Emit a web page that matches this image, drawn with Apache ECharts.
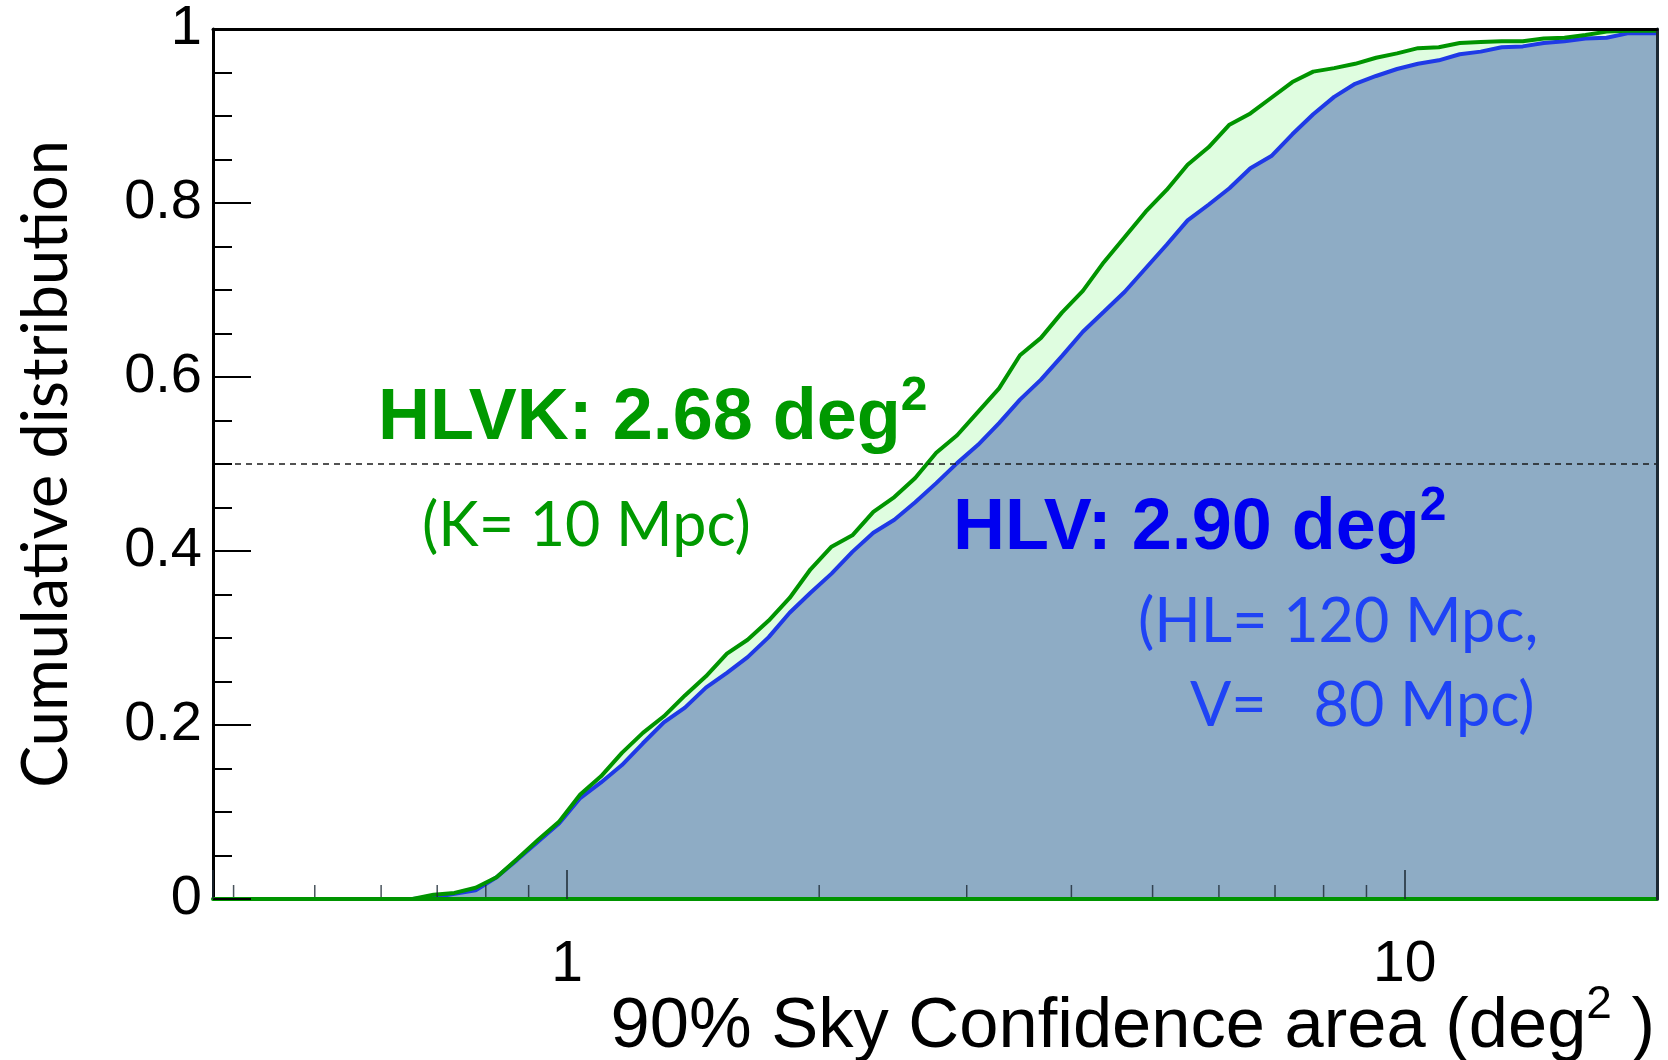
<!DOCTYPE html>
<html>
<head>
<meta charset="utf-8">
<title>90% sky confidence area</title>
<script src="https://cdn.jsdelivr.net/npm/echarts@6/dist/echarts.min.js"></script>
<style>
  html, body { margin: 0; padding: 0; background: #fff; }
  #chart { width: 1668px; height: 1060px; }
</style>
</head>
<body>
<div id="chart"></div>
<script>
// histogram bin centres (deg^2), last entry closes the curve at the axis end
const areas = [
  0.390, 0.413, 0.437, 0.463, 0.491, 0.520, 0.551, 0.583, 0.618, 0.654,
  0.693, 0.734, 0.778, 0.824, 0.872, 0.924, 0.979, 1.037, 1.098, 1.163,
  1.232, 1.305, 1.383, 1.465, 1.552, 1.643, 1.741, 1.844, 1.953, 2.069,
  2.191, 2.321, 2.459, 2.604, 2.759, 2.922, 3.095, 3.279, 3.473, 3.679,
  3.897, 4.128, 4.373, 4.632, 4.906, 5.197, 5.505, 5.831, 6.176, 6.542,
  6.930, 7.341, 7.775, 8.236, 8.724, 9.241, 9.789, 10.37, 10.98, 11.63,
  12.32, 13.05, 13.83, 14.65, 15.51, 16.43, 17.41, 18.44, 19.53, 20.0
];

// cumulative fraction, HLVK network
const hlvk = [
  0, 0, 0, 0, 0, 0, 0, 0, 0, 0,
  0.005, 0.007, 0.013, 0.025, 0.046, 0.068, 0.089, 0.120, 0.141, 0.168,
  0.191, 0.210, 0.234, 0.256, 0.282, 0.298, 0.320, 0.346, 0.379, 0.405,
  0.418, 0.445, 0.462, 0.484, 0.513, 0.533, 0.560, 0.587, 0.625, 0.645,
  0.674, 0.699, 0.732, 0.761, 0.790, 0.815, 0.844, 0.864, 0.890, 0.903,
  0.921, 0.939, 0.951, 0.955, 0.960, 0.967, 0.972, 0.978, 0.979, 0.984,
  0.985, 0.986, 0.986, 0.989, 0.990, 0.993, 0.997, 0.998, 0.998, 0.998
];

// cumulative fraction, HLV network
const hlv = [
  0, 0, 0, 0, 0, 0, 0, 0, 0, 0,
  0.002, 0.006, 0.010, 0.025, 0.045, 0.066, 0.087, 0.116, 0.134, 0.154,
  0.179, 0.203, 0.220, 0.243, 0.260, 0.278, 0.301, 0.329, 0.352, 0.374,
  0.399, 0.421, 0.436, 0.456, 0.478, 0.501, 0.522, 0.547, 0.574, 0.597,
  0.624, 0.652, 0.675, 0.698, 0.725, 0.752, 0.780, 0.798, 0.817, 0.840,
  0.854, 0.879, 0.902, 0.922, 0.937, 0.946, 0.954, 0.960, 0.964, 0.971,
  0.974, 0.979, 0.980, 0.984, 0.986, 0.989, 0.990, 0.995, 0.995, 0.995
];

// small ticks on the log axis
const minorTickValues = [0.4, 0.5, 0.6, 0.7, 0.8, 0.9, 2, 3, 4, 5, 6, 7, 8, 9];

const xMin = 0.378;
const xMax = 20;

const sans = '"Liberation Sans", Arial, Helvetica, sans-serif';
const human = 'Lato, "Open Sans", sans-serif';
const green = '#009400';
const blue = '#1f3ae6';

const hlvkData = areas.map((a, i) => [a, hlvk[i]]);
const hlvData = areas.map((a, i) => [a, hlv[i]]);

// superscript "2" used in the annotations
const supStyle = (color) => ({
  fontSize: 48, fontWeight: 'bold', fontFamily: sans, fill: color,
  height: 28, lineHeight: 28, verticalAlign: 'top'
});

const chart = echarts.init(document.getElementById('chart'));

const option = {
  animation: false,
  grid: { left: 213, top: 29, right: 11, bottom: 161, show: false, outerBoundsMode: 'none' },
  xAxis: [
    {
      type: 'log',
      logBase: 10,
      min: xMin,
      max: xMax,
      z: 5,
      axisLine: { show: true, onZero: false, lineStyle: { color: green, width: 4 } },
      axisTick: { show: true, inside: true, length: 29, lineStyle: { color: '#1c2833', width: 1.5 } },
      splitLine: { show: false },
      axisLabel: {
        margin: 41,
        fontSize: 57,
        lineHeight: 50,
        fontFamily: sans,
        color: '#000',
        formatter: (v) => {
          const l = Math.log10(v);
          return Math.abs(l - Math.round(l)) < 1e-6 ? String(Math.round(v)) : '';
        }
      },
      name: '90% Sky Confidence area (deg{s|2} )',
      nameLocation: 'end',
      nameGap: -2,
      nameMoveOverlap: false,
      nameTextStyle: {
        fontSize: 70.5,
        fontFamily: sans,
        color: '#000',
        align: 'right',
        verticalAlign: 'top',
        padding: [93, 0, 0, 0],
        rich: {
          s: { fontSize: 46, fontFamily: sans, color: '#000', height: 26, lineHeight: 26, verticalAlign: 'top' }
        }
      }
    },
    {
      type: 'log',
      logBase: 10,
      position: 'top',
      min: xMin,
      max: xMax,
      z: 6,
      axisLine: { show: true, onZero: false, lineStyle: { color: '#000', width: 3 } },
      axisTick: { show: false },
      axisLabel: { show: false },
      splitLine: { show: false }
    }
  ],
  yAxis: [
    {
      type: 'value',
      min: 0,
      max: 1,
      interval: 0.2,
      z: 5,
      axisLine: { show: true, onZero: false, lineStyle: { color: '#000', width: 3 } },
      axisTick: { show: true, inside: true, length: 38, lineStyle: { color: '#000', width: 2 } },
      minorTick: { show: true, splitNumber: 4, length: 19, lineStyle: { color: '#000', width: 2 } },
      splitLine: { show: false },
      axisLabel: { margin: 11, fontSize: 56, fontFamily: sans, color: '#000' },
      name: 'Cumulative distribution',
      nameLocation: 'middle',
      nameRotate: 90,
      nameGap: 166,
      nameMoveOverlap: false,
      nameTextStyle: { fontSize: 63, fontFamily: human, color: '#000', verticalAlign: 'middle' }
    },
    {
      type: 'value',
      position: 'right',
      min: 0,
      max: 1,
      z: 6,
      axisLine: { show: true, onZero: false, lineStyle: { color: '#1c2833', width: 3 } },
      axisTick: { show: false },
      axisLabel: { show: false },
      splitLine: { show: false }
    }
  ],
  graphic: [
    {
      type: 'text', x: 378, y: 383, silent: true, z: 20,
      style: {
        text: 'HLVK: 2.68 deg{s|2}',
        fontSize: 72, fontWeight: 'bold', fontFamily: sans, fill: '#009900',
        verticalAlign: 'top', align: 'left',
        rich: { s: supStyle('#009900') }
      }
    },
    {
      type: 'text', x: 422, y: 496, silent: true, z: 20,
      style: { text: '(K= 10 Mpc)', fontSize: 61, fontFamily: human, fill: '#009900', verticalAlign: 'top', align: 'left' }
    },
    {
      type: 'text', x: 953, y: 493, silent: true, z: 20,
      style: {
        text: 'HLV: 2.90 deg{s|2}',
        fontSize: 72, fontWeight: 'bold', fontFamily: sans, fill: '#0000f0',
        verticalAlign: 'top', align: 'left',
        rich: { s: supStyle('#0000f0') }
      }
    },
    {
      type: 'text', x: 1138, y: 592, silent: true, z: 20,
      style: { text: '(HL= 120 Mpc,', fontSize: 61, fontFamily: human, fill: '#1f43f5', verticalAlign: 'top', align: 'left' }
    },
    {
      type: 'text', x: 1190, y: 676, silent: true, z: 20,
      style: { text: 'V=   80 Mpc)', fontSize: 61, fontFamily: human, fill: '#1f43f5', verticalAlign: 'top', align: 'left' }
    }
  ],
  series: [
    {
      name: 'HLVK fill',
      type: 'line',
      data: hlvkData,
      symbol: 'none',
      silent: true,
      z: 1,
      lineStyle: { width: 0, opacity: 0 },
      areaStyle: { color: '#dffde0', opacity: 1 }
    },
    {
      name: 'HLV',
      type: 'line',
      data: hlvData,
      symbol: 'none',
      silent: true,
      z: 2,
      lineStyle: { color: blue, width: 4 },
      areaStyle: { color: '#8eacc5', opacity: 1 }
    },
    {
      name: 'HLVK',
      type: 'line',
      data: hlvkData,
      symbol: 'none',
      silent: true,
      z: 3,
      lineStyle: { color: green, width: 4 },
      markLine: {
        silent: true,
        symbol: 'none',
        label: { show: false },
        lineStyle: { color: '#1a1a1a', type: [6, 5], width: 1.5 },
        data: [{ yAxis: 0.5 }]
      }
    },
    {
      name: 'minor ticks',
      type: 'scatter',
      data: minorTickValues.map((v) => [v, 0]),
      symbol: 'rect',
      symbolSize: [1.5, 14],
      symbolOffset: [0, -7],
      silent: true,
      z: 4,
      itemStyle: { color: '#1c2833' }
    }
  ]
};

chart.setOption(option);
</script>
</body>
</html>
